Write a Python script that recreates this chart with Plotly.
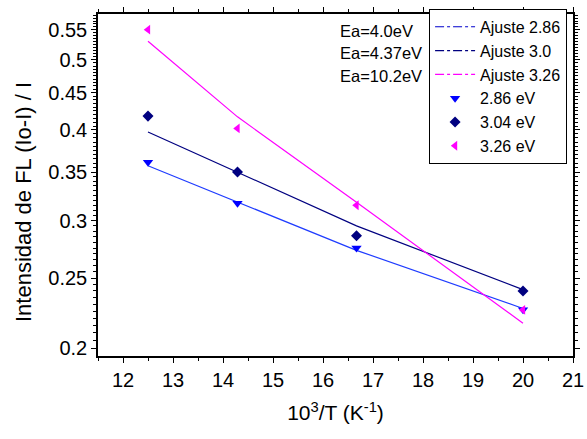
import plotly.graph_objects as go
import numpy as np

x_inv_t = [12.5, 14.29, 16.67, 20.0]
y_286 = [0.361, 0.317, 0.275, 0.226]
y_304 = [0.418, 0.350, 0.286, 0.240]
y_326 = [0.550, 0.402, 0.315, 0.226]
fit_286 = [0.357, 0.3185, 0.273, 0.227]
fit_304 = [0.3975, 0.350, 0.295, 0.241]
fit_326 = [0.530, 0.417, 0.318, 0.2166]
ea_labels = ["Ea=4.0eV", "Ea=4.37eV", "Ea=10.2eV"]
x_major = list(range(12, 22))
x_minor = [v + 0.5 for v in range(11, 21)]
y_major = [0.2, 0.25, 0.3, 0.35, 0.4, 0.45, 0.5, 0.55]
y_minor = [round(0.195 + 0.005 * i, 3) for i in range(0, 77)]

BLUE = "#0000FF"
NAVY = "#000080"
MAG = "#FF00FF"
FONT = "Liberation Sans, Arial, sans-serif"

fig = go.Figure()
# fitted lines (solid in plot)
for fy, col in [(fit_286, "#1f3cff"), (fit_304, NAVY), (fit_326, MAG)]:
    fig.add_trace(go.Scatter(x=x_inv_t, y=fy, mode="lines", showlegend=False,
                             line=dict(color=col, width=1.2)))
# legend entries for fits (dash-dot)
for name, col in [("Ajuste 2.86", "#0000CC"), ("Ajuste 3.0", NAVY), ("Ajuste 3.26", MAG)]:
    fig.add_trace(go.Scatter(x=[None], y=[None], mode="lines", name=name,
                             line=dict(color=col, width=1.2, dash="dashdot")))
# data points
fig.add_trace(go.Scatter(x=x_inv_t, y=y_286, mode="markers", name="2.86 eV",
                         marker=dict(symbol="triangle-down", size=9, color=BLUE)))
fig.add_trace(go.Scatter(x=x_inv_t, y=y_304, mode="markers", name="3.04 eV",
                         marker=dict(symbol="diamond", size=8.5, color=NAVY)))
fig.add_trace(go.Scatter(x=x_inv_t, y=y_326, mode="markers", name="3.26 eV",
                         marker=dict(symbol="triangle-left", size=8.5, color=MAG)))

for i, (txt, yp) in enumerate(zip(ea_labels, [0.950, 0.886, 0.819])):
    fig.add_annotation(x=0.505, y=yp, xref="paper", yref="paper", text=txt,
                       showarrow=False, xanchor="left", yanchor="middle",
                       font=dict(size=16.5, color="black", family=FONT))

# y axis title
fig.add_annotation(x=-0.158, y=0.45, xref="paper", yref="paper",
                   text="Intensidad de FL (Io-I) / I", textangle=-90,
                   showarrow=False, xanchor="center", yanchor="middle",
                   font=dict(size=22, color="black", family=FONT))

fig.update_layout(
    width=587, height=439,
    margin=dict(l=98, r=14, t=14, b=83, autoexpand=False),
    paper_bgcolor="white", plot_bgcolor="white",
    font=dict(family=FONT, color="black"),
    legend=dict(x=0.697, y=1.015, xanchor="left", yanchor="top",
                bordercolor="black", borderwidth=1, bgcolor="white",
                font=dict(size=16, family=FONT), tracegroupgap=0,
                itemwidth=40),
    xaxis=dict(range=[11.5, 21], tickvals=x_major, ticks="outside", ticklen=5,
               tickwidth=1, tickcolor="black", showline=True, linecolor="black",
               linewidth=1.5, mirror="ticks", showgrid=False, zeroline=False,
               tickfont=dict(size=20), automargin=False,
               minor=dict(tickvals=x_minor, ticks="outside", ticklen=3, tickcolor="black"),
               title=dict(text="10<sup>3</sup>/T (K<sup>-1</sup>)", font=dict(size=21), standoff=16)),
    yaxis=dict(type="log", range=[np.log10(0.1952), np.log10(0.578)],
               tickvals=y_major, ticktext=[str(v) for v in y_major],
               ticks="outside", ticklen=5, tickwidth=1, tickcolor="black",
               showline=True, linecolor="black", linewidth=1.5, mirror="ticks",
               showgrid=False, zeroline=False, tickfont=dict(size=20), automargin=False,
               minor=dict(tickvals=y_minor, ticks="outside", ticklen=3, tickcolor="black")),
)

fig.write_html("out.html")
